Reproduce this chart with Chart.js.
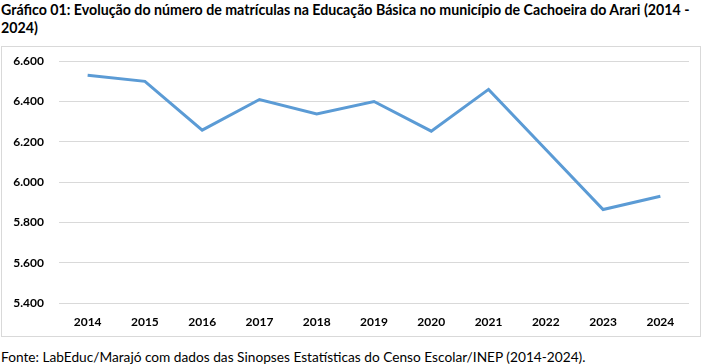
<!DOCTYPE html>
<html>
<head>
<meta charset="utf-8">
<script src="https://cdn.jsdelivr.net/npm/chart.js@4"></script>
<style>
  html, body { margin: 0; padding: 0; background: #fff; }
  body { width: 701px; height: 364px; position: relative; overflow: hidden; font-family: Lato, "Liberation Sans", sans-serif; }
  #title { position: absolute; left: 1px; top: 1px; width: 698px; font-weight: bold; font-size: 14.2px; line-height: 18px; color: #000; }
  #box { position: absolute; left: 1px; top: 46px; width: 698px; height: 289px; border: 1px solid #d9d9d9; }
  #wrap { position: absolute; left: 0; top: -8px; width: 698px; height: 297px; }
  #foot { position: absolute; left: 1px; top: 348px; font-size: 13.7px; color: #000; white-space: nowrap; }
</style>
</head>
<body>
<div id="title">Gráfico 01: Evolução do número de matrículas na Educação Básica no município de Cachoeira do Arari (2014 - 2024)</div>
<div id="box"><div id="wrap"><canvas id="c"></canvas></div></div>
<div id="foot">Fonte: LabEduc/Marajó com dados das Sinopses Estatísticas do Censo Escolar/INEP (2014-2024).</div>
<script>
const years = ["2014","2015","2016","2017","2018","2019","2020","2021","2022","2023","2024"];
const matriculas = [6530, 6500, 6258, 6410, 6338, 6400, 6253, 6460, 6162, 5864, 5930];
const yTicks = [5400, 5600, 5800, 6000, 6200, 6400, 6600];

function fmt(v) {
  return String(v).replace(/\B(?=(\d{3})+(?!\d))/g, ".");
}

new Chart(document.getElementById('c'), {
  type: 'line',
  data: {
    labels: years,
    datasets: [{
      data: matriculas,
      borderColor: '#5b9bd5',
      borderWidth: 3,
      pointRadius: 0,
      tension: 0,
      fill: false
    }]
  },
  options: {
    responsive: true,
    maintainAspectRatio: false,
    animation: false,
    layout: { padding: { top: 8, right: 11, bottom: 0, left: 0 } },
    plugins: { legend: { display: false }, tooltip: { enabled: false } },
    scales: {
      x: {
        offset: true,
        grid: { display: false, drawTicks: false },
        border: { display: false },
        ticks: { color: '#000', font: { family: 'Lato', weight: 'bold', size: 12 }, padding: 12, maxRotation: 0 },
        afterFit(s) { s.height = 33; }
      },
      y: {
        min: 5400, max: 6600,
        grid: { color: '#d9d9d9', lineWidth: 1, drawTicks: false },
        border: { display: false },
        afterBuildTicks(s) { s.ticks = yTicks.map(v => ({ value: v })); },
        ticks: { color: '#000', font: { family: 'Lato', weight: 'bold', size: 12 }, padding: 15, callback: v => fmt(v) },
        afterFit(s) { s.width = 57; }
      }
    }
  }
});
</script>
</body>
</html>
